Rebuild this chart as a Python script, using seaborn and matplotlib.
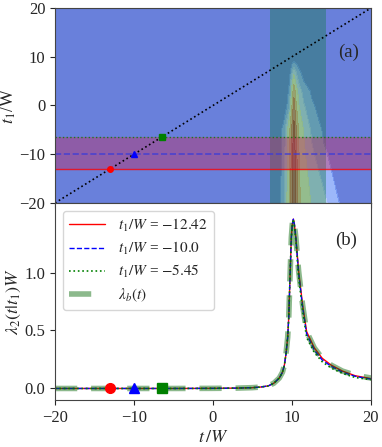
import numpy as np
import pandas as pd
import matplotlib
matplotlib.use("Agg")
import matplotlib.pyplot as plt
import seaborn as sns

# ================================
# data
# ================================

# panel (a): conditional intensity map, rows = t1, columns = t
grid_t = [-20, 8.0, 8.9, 9.3, 9.7, 10.0, 10.25, 10.5, 10.9, 11.5, 12.5, 14.0, 15.5, 17.0, 20]
grid_t1 = [-20, -10, -5, 0, 3, 5, 7, 8.5, 9.5, 20]
grid_z = [
    [0, 0.01, 0.06, 0.20, 0.50, 0.82, 1.10, 0.82, 0.50, 0.33, 0.24, 0.15, 0.05, 0.02, 0],
    [0, 0.01, 0.05, 0.18, 0.46, 0.75, 1.00, 0.75, 0.45, 0.28, 0.14, 0.05, 0.02, 0.01, 0],
    [0, 0.01, 0.05, 0.17, 0.42, 0.70, 0.92, 0.70, 0.40, 0.24, 0.10, 0.03, 0.01, 0, 0],
    [0, 0, 0.01, 0.03, 0.10, 0.45, 0.75, 0.50, 0.25, 0.13, 0.05, 0.01, 0, 0, 0],
    [0, 0, 0, 0.01, 0.06, 0.30, 0.58, 0.35, 0.17, 0.08, 0.03, 0, 0, 0, 0],
    [0, 0, 0, 0, 0.04, 0.20, 0.38, 0.22, 0.10, 0.04, 0.01, 0, 0, 0, 0],
    [0, 0, 0, 0, 0.02, 0.10, 0.18, 0.12, 0.05, 0.02, 0, 0, 0, 0, 0],
    [0, 0, 0, 0, 0, 0.04, 0.08, 0.05, 0.02, 0, 0, 0, 0, 0, 0],
    [0] * 15,
    [0] * 15,
]
z_levels = [0, 0.04, 0.12, 0.25, 0.45, 0.65, 0.85, 1.2]
band_colors = ["#3755d0", "#7b9ff9", "#c0d4f5", "#f2f0a0", "#f7b05a", "#e0602e", "#b4280a"]

t1_values = [-13.0, -10.0, -6.5]
t1_labels = ["$t_1/W$ = $-12.42$", "$t_1/W$ = $-10.0$", "$t_1/W$ = $-5.45$"]
diag_t = [-20, 20]
band_t = (7.2, 14.3)

# panel (b): lambda_2(t|t1) W curves
curve_t = [-20, -15, -10, -5, 0, 3, 5, 6, 7, 7.7, 8.4, 8.8, 9.04, 9.25, 9.46, 9.6, 9.75,
           9.92, 10.05, 10.18, 10.3, 10.5, 10.85, 11.35, 11.86, 12.83, 13.84, 15, 16.4, 18, 20]
lam_b = [0, 0, 0, 0, 0.001, 0.003, 0.007, 0.012, 0.022, 0.045, 0.09, 0.14, 0.2, 0.3, 0.44,
         0.62, 0.95, 1.3, 1.42, 1.46, 1.42, 1.3, 1.01, 0.72, 0.49, 0.35, 0.26, 0.2, 0.15, 0.115, 0.09]
lam_red = [0, 0, 0, 0, 0.001, 0.003, 0.007, 0.012, 0.022, 0.045, 0.09, 0.14, 0.2, 0.3, 0.44,
           0.62, 0.95, 1.3, 1.42, 1.46, 1.42, 1.3, 1.01, 0.72, 0.49, 0.35, 0.26, 0.2, 0.15, 0.11, 0.085]
lam_blue = [0, 0, 0, 0, 0.001, 0.003, 0.007, 0.012, 0.022, 0.045, 0.09, 0.14, 0.2, 0.3, 0.44,
            0.62, 0.95, 1.3, 1.42, 1.46, 1.42, 1.29, 0.99, 0.70, 0.47, 0.33, 0.245, 0.19, 0.14, 0.105, 0.08]
lam_green = [0, 0, 0, 0, 0.001, 0.003, 0.007, 0.012, 0.022, 0.045, 0.09, 0.14, 0.2, 0.3, 0.44,
             0.62, 0.95, 1.3, 1.42, 1.46, 1.41, 1.27, 0.96, 0.67, 0.44, 0.31, 0.23, 0.175, 0.13, 0.095, 0.075]

# ================================
# style
# ================================
sns.set_style("ticks")
plt.rcParams["font.family"] = ["Liberation Serif", "DejaVu Serif"]
plt.rcParams["mathtext.fontset"] = "stix"

fig = plt.figure(figsize=(3.82, 4.47), dpi=100)
ax_a = fig.add_axes([0.144, 0.546, 0.827, 0.436])
ax_b = fig.add_axes([0.144, 0.105, 0.827, 0.441], sharex=ax_a)

# ================================
# panel (a)
# ================================
ax_a.contourf(grid_t, grid_t1, np.array(grid_z), levels=z_levels, colors=band_colors, alpha=0.75)
ax_a.axvspan(*band_t, color="#1f7a5a", alpha=0.45, lw=0)
ax_a.axhspan(t1_values[0], t1_values[2], color="#c8285a", alpha=0.4, lw=0)
ax_a.axhline(t1_values[0], color="red", lw=1.0, alpha=0.8)
ax_a.axhline(t1_values[1], color="#3b3bd8", lw=1.2, ls="--", alpha=0.8)
ax_a.axhline(t1_values[2], color="green", lw=1.0, ls=":", alpha=0.8)
ax_a.plot(diag_t, diag_t, color="black", ls=":", lw=1.2)
ax_a.plot(t1_values[0], t1_values[0], "o", color="red", ms=4)
ax_a.plot(t1_values[1], t1_values[1], "^", color="blue", ms=4.5)
ax_a.plot(t1_values[2], t1_values[2], "s", color="green", ms=4)
ax_a.text(17.2, 11, "(a)", fontsize=13.5, ha="center", va="center")
ax_a.set_xlim(-20, 20)
ax_a.set_ylim(-20, 20)
ax_a.set_yticks([-20, -10, 0, 10, 20])
ax_a.set_ylabel("$t_1$/W", fontsize=13, labelpad=1)
ax_a.tick_params(labelbottom=False, labelsize=12)

# ================================
# panel (b)
# ================================
df = pd.DataFrame({"t": curve_t, "b": lam_b, "r": lam_red, "bl": lam_blue, "g": lam_green})
sns.lineplot(data=df, x="t", y="r", ax=ax_b, color="red", lw=1.0, label=t1_labels[0])
sns.lineplot(data=df, x="t", y="bl", ax=ax_b, color="blue", lw=1.0, ls="--", label=t1_labels[1])
sns.lineplot(data=df, x="t", y="g", ax=ax_b, color="green", lw=1.2, ls=":", label=t1_labels[2])
sns.lineplot(data=df, x="t", y="b", ax=ax_b, color="darkgreen", lw=4, alpha=0.45,
             dashes=(4, 2.5), label="$\\lambda_b(t)$")
ax_b.plot(t1_values[0], 0, "o", color="red", ms=7, zorder=5)
ax_b.plot(t1_values[1], 0, "^", color="blue", ms=7.5, zorder=5)
ax_b.plot(t1_values[2], 0, "s", color="green", ms=7, zorder=5)
ax_b.text(16.9, 1.28, "(b)", fontsize=13.5, ha="center", va="center")
ax_b.set_ylim(-0.1, 1.6)
ax_b.set_yticks([0.0, 0.5, 1.0])
ax_b.set_xticks([-20, -10, 0, 10, 20])
ax_b.set_xlabel("$t\\,/W$", fontsize=13, labelpad=2)
ax_b.set_ylabel("$\\lambda_2(t|t_1)W$", fontsize=13, labelpad=1)
ax_b.tick_params(labelsize=12)
ax_b.legend(loc="upper left", fontsize=11, handlelength=2.4, frameon=True,
            borderaxespad=0.5, labelspacing=0.4)

for ax in (ax_a, ax_b):
    for s in ax.spines.values():
        s.set_visible(True)
        s.set_color("#444444")

fig.savefig("out.png", dpi=100)
